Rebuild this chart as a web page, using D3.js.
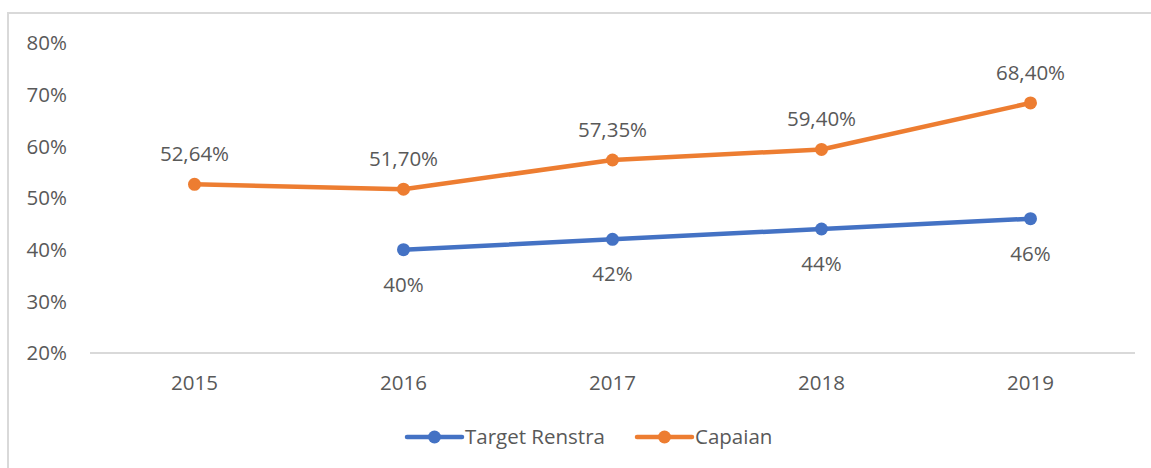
<!DOCTYPE html>
<html><head><meta charset="utf-8">
<script src="https://cdn.jsdelivr.net/npm/d3@7"></script>
<style>body{margin:0;background:#fff;} svg{display:block;} text{font-family:"Open Sans",sans-serif;fill:#595959;}</style>
</head><body>
<script>
const years = ["2015","2016","2017","2018","2019"];
const targetRenstra = [null, 40, 42, 44, 46];
const capaian = [52.64, 51.70, 57.35, 59.40, 68.40];
const targetLabels = [null, "40%", "42%", "44%", "46%"];
const capaianLabels = ["52,64%", "51,70%", "57,35%", "59,40%", "68,40%"];
const yTicks = [20, 30, 40, 50, 60, 70, 80];
const seriesNames = ["Target Renstra", "Capaian"];
const colors = ["#4472C4", "#ED7D31"];

const W = 1151, H = 468;
const svg = d3.select("body").append("svg").attr("width", W).attr("height", H);

// outer border
svg.append("rect").attr("x", 8).attr("y", 13).attr("width", W + 10).attr("height", H + 10)
  .attr("fill", "none").attr("stroke", "#d9d9d9").attr("stroke-width", 2);

const x = d3.scaleBand().domain(years).range([90, 1135]);
const y = d3.scaleLinear().domain([20, 80]).range([353, 43]);
const fs = 20.5;

// y labels
svg.selectAll(".ylab").data(yTicks).enter().append("text")
  .attr("x", 67).attr("y", d => y(d)).attr("dy", "0.35em")
  .attr("text-anchor", "end").style("font-size", fs + "px")
  .text(d => d + "%");

// x axis line
svg.append("line").attr("x1", 90).attr("x2", 1135).attr("y1", y(20)).attr("y2", y(20))
  .attr("stroke", "#d9d9d9").attr("stroke-width", 2);

svg.selectAll(".xlab").data(years).enter().append("text")
  .attr("x", d => x(d) + x.bandwidth() / 2).attr("y", 390)
  .attr("text-anchor", "middle").style("font-size", fs + "px").text(d => d);

const cx = d => x(d) + x.bandwidth() / 2;
const series = [
  {vals: targetRenstra, labels: targetLabels, color: colors[0], below: true},
  {vals: capaian, labels: capaianLabels, color: colors[1], below: false}
];

series.forEach(s => {
  const pts = years.map((yr, i) => ({yr, v: s.vals[i], lab: s.labels[i]})).filter(p => p.v != null);
  const line = d3.line().x(p => cx(p.yr)).y(p => y(p.v));
  svg.append("path").attr("d", line(pts)).attr("fill", "none")
    .attr("stroke", s.color).attr("stroke-width", 4.5).attr("stroke-linejoin", "round");
  svg.selectAll(null).data(pts).enter().append("circle")
    .attr("cx", p => cx(p.yr)).attr("cy", p => y(p.v)).attr("r", 6.5).attr("fill", s.color);
  svg.selectAll(null).data(pts).enter().append("text")
    .attr("x", p => cx(p.yr)).attr("y", p => y(p.v) + (s.below ? 42 : -23))
    .attr("text-anchor", "middle").style("font-size", fs + "px").text(p => p.lab);
});

// legend
const legend = [{name: seriesNames[0], color: colors[0], x0: 407}, {name: seriesNames[1], color: colors[1], x0: 637}];
legend.forEach(l => {
  const g = svg.append("g");
  g.append("line").attr("x1", l.x0).attr("x2", l.x0 + 55).attr("y1", 437).attr("y2", 437)
    .attr("stroke", l.color).attr("stroke-width", 4.5).attr("stroke-linecap", "round");
  g.append("circle").attr("cx", l.x0 + 27.5).attr("cy", 437).attr("r", 6.5).attr("fill", l.color);
  g.append("text").attr("x", l.x0 + 58).attr("y", 437).attr("dy", "0.35em")
    .style("font-size", fs + "px").text(l.name);
});
</script>
</body></html>
